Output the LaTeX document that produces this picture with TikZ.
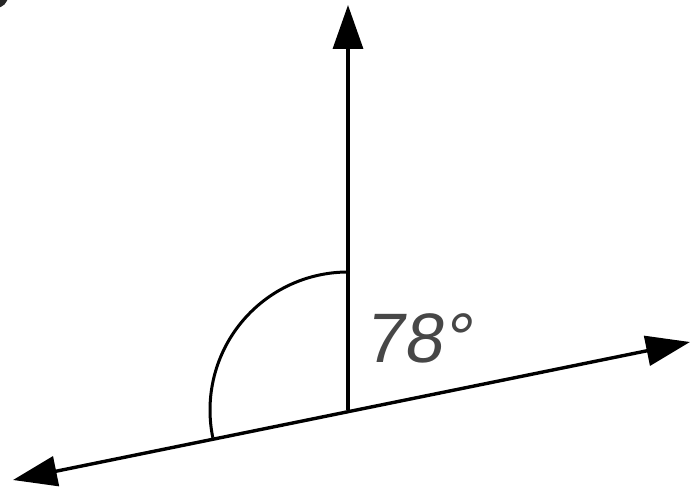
\documentclass[tikz,border=0pt]{standalone}
\usepackage{fontspec}
\setmainfont{Liberation Sans}
\newfontfamily\labfont[FakeSlant=0.15]{Liberation Sans}
\usetikzlibrary{arrows.meta}
\tikzset{
  ray/.style={line width=3.4pt, draw=black},
  tip/.style={-{Triangle[length=44pt,width=30pt]}},
  bothtip/.style={{Triangle[length=44pt,width=30pt]}-{Triangle[length=44pt,width=30pt]}},
  anglabel/.style={text=black!72, font=\labfont\fontsize{70}{70}\selectfont, inner sep=0pt, anchor=base west}
}
\begin{document}
\begin{tikzpicture}[x=1pt,y=1pt]
  \useasboundingbox (0,0) rectangle (692,493);
  \fill[white] (0,0) rectangle (692,493);
  % corner fragment
  \coordinate (corner) at (-4,497);
  \fill[black!85] (corner) circle (12);
  % points
  \coordinate (V) at (348,83);
  \coordinate (L) at (13,13);
  \coordinate (R) at (690,151);
  \coordinate (T) at (348,488);
  \draw[ray, bothtip] (L) -- (R);
  \draw[ray, tip] (V) -- (T);
  \draw[line width=3pt] ([shift={(90:138)}]V) arc[start angle=90, end angle=191.6, radius=138];
  \node[anglabel] (lab) at (364,131) {78°};
\end{tikzpicture}
\end{document}
